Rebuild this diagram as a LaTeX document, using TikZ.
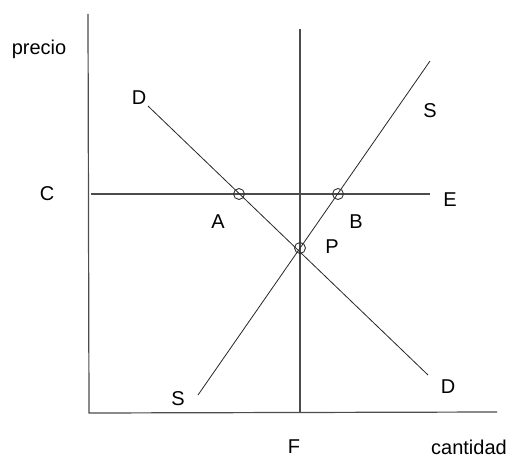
\documentclass[tikz,border=0pt]{standalone}
\usepackage{fontspec}
\setmainfont{Liberation Sans}
\begin{document}
\begin{tikzpicture}[x=1pt,y=-1pt,
  axis/.style={draw=black!70,line width=1.2pt},
  curve/.style={draw=black!85,line width=0.8pt},
  pt/.style={circle,draw=black!80,line width=0.9pt,minimum size=11pt,inner sep=0pt},
  lbl/.style={font=\fontsize{20}{24}\selectfont,inner sep=0pt}]
\useasboundingbox (0,0) rectangle (511,457);
% coordinates
\coordinate (Ytop) at (88,14);
\coordinate (O) at (89,413);
\coordinate (Xend) at (497,412);
\coordinate (Ftop) at (300,29);
\coordinate (Fbot) at (300,413);
\coordinate (Cl) at (91,194);
\coordinate (Er) at (430,194);
\coordinate (Dtop) at (148,106);
\coordinate (Dbot) at (428,375);
\coordinate (Sbot) at (198,395);
\coordinate (Stop) at (430,61);
% axes and lines
\draw[axis] (Ytop) -- (O) -- (Xend);
\draw[axis] (Ftop) -- (Fbot);
\draw[axis] (Cl) -- (Er);
\draw[curve] (Dtop) -- (Dbot);
\draw[curve] (Sbot) -- (Stop);
% points
\node[pt] (A) at (239,194) {};
\node[pt] (B) at (338,194) {};
\node[pt] (P) at (300,248) {};
% labels
\node[lbl] (precio) at (39,49) {precio};
\node[lbl] (Dl1) at (139,98) {D};
\node[lbl] (Sl1) at (430,111) {S};
\node[lbl] (Cl1) at (47,194) {C};
\node[lbl] (El1) at (450,200) {E};
\node[lbl] (Al) at (218,222) {A};
\node[lbl] (Bl) at (356,222) {B};
\node[lbl] (Pl) at (332,247) {P};
\node[lbl] (Sl2) at (178,399) {S};
\node[lbl] (Dl2) at (448,387) {D};
\node[lbl] (Fl) at (294,447) {F};
\node[lbl] (cant) at (469,447) {cantidad};
\end{tikzpicture}
\end{document}
